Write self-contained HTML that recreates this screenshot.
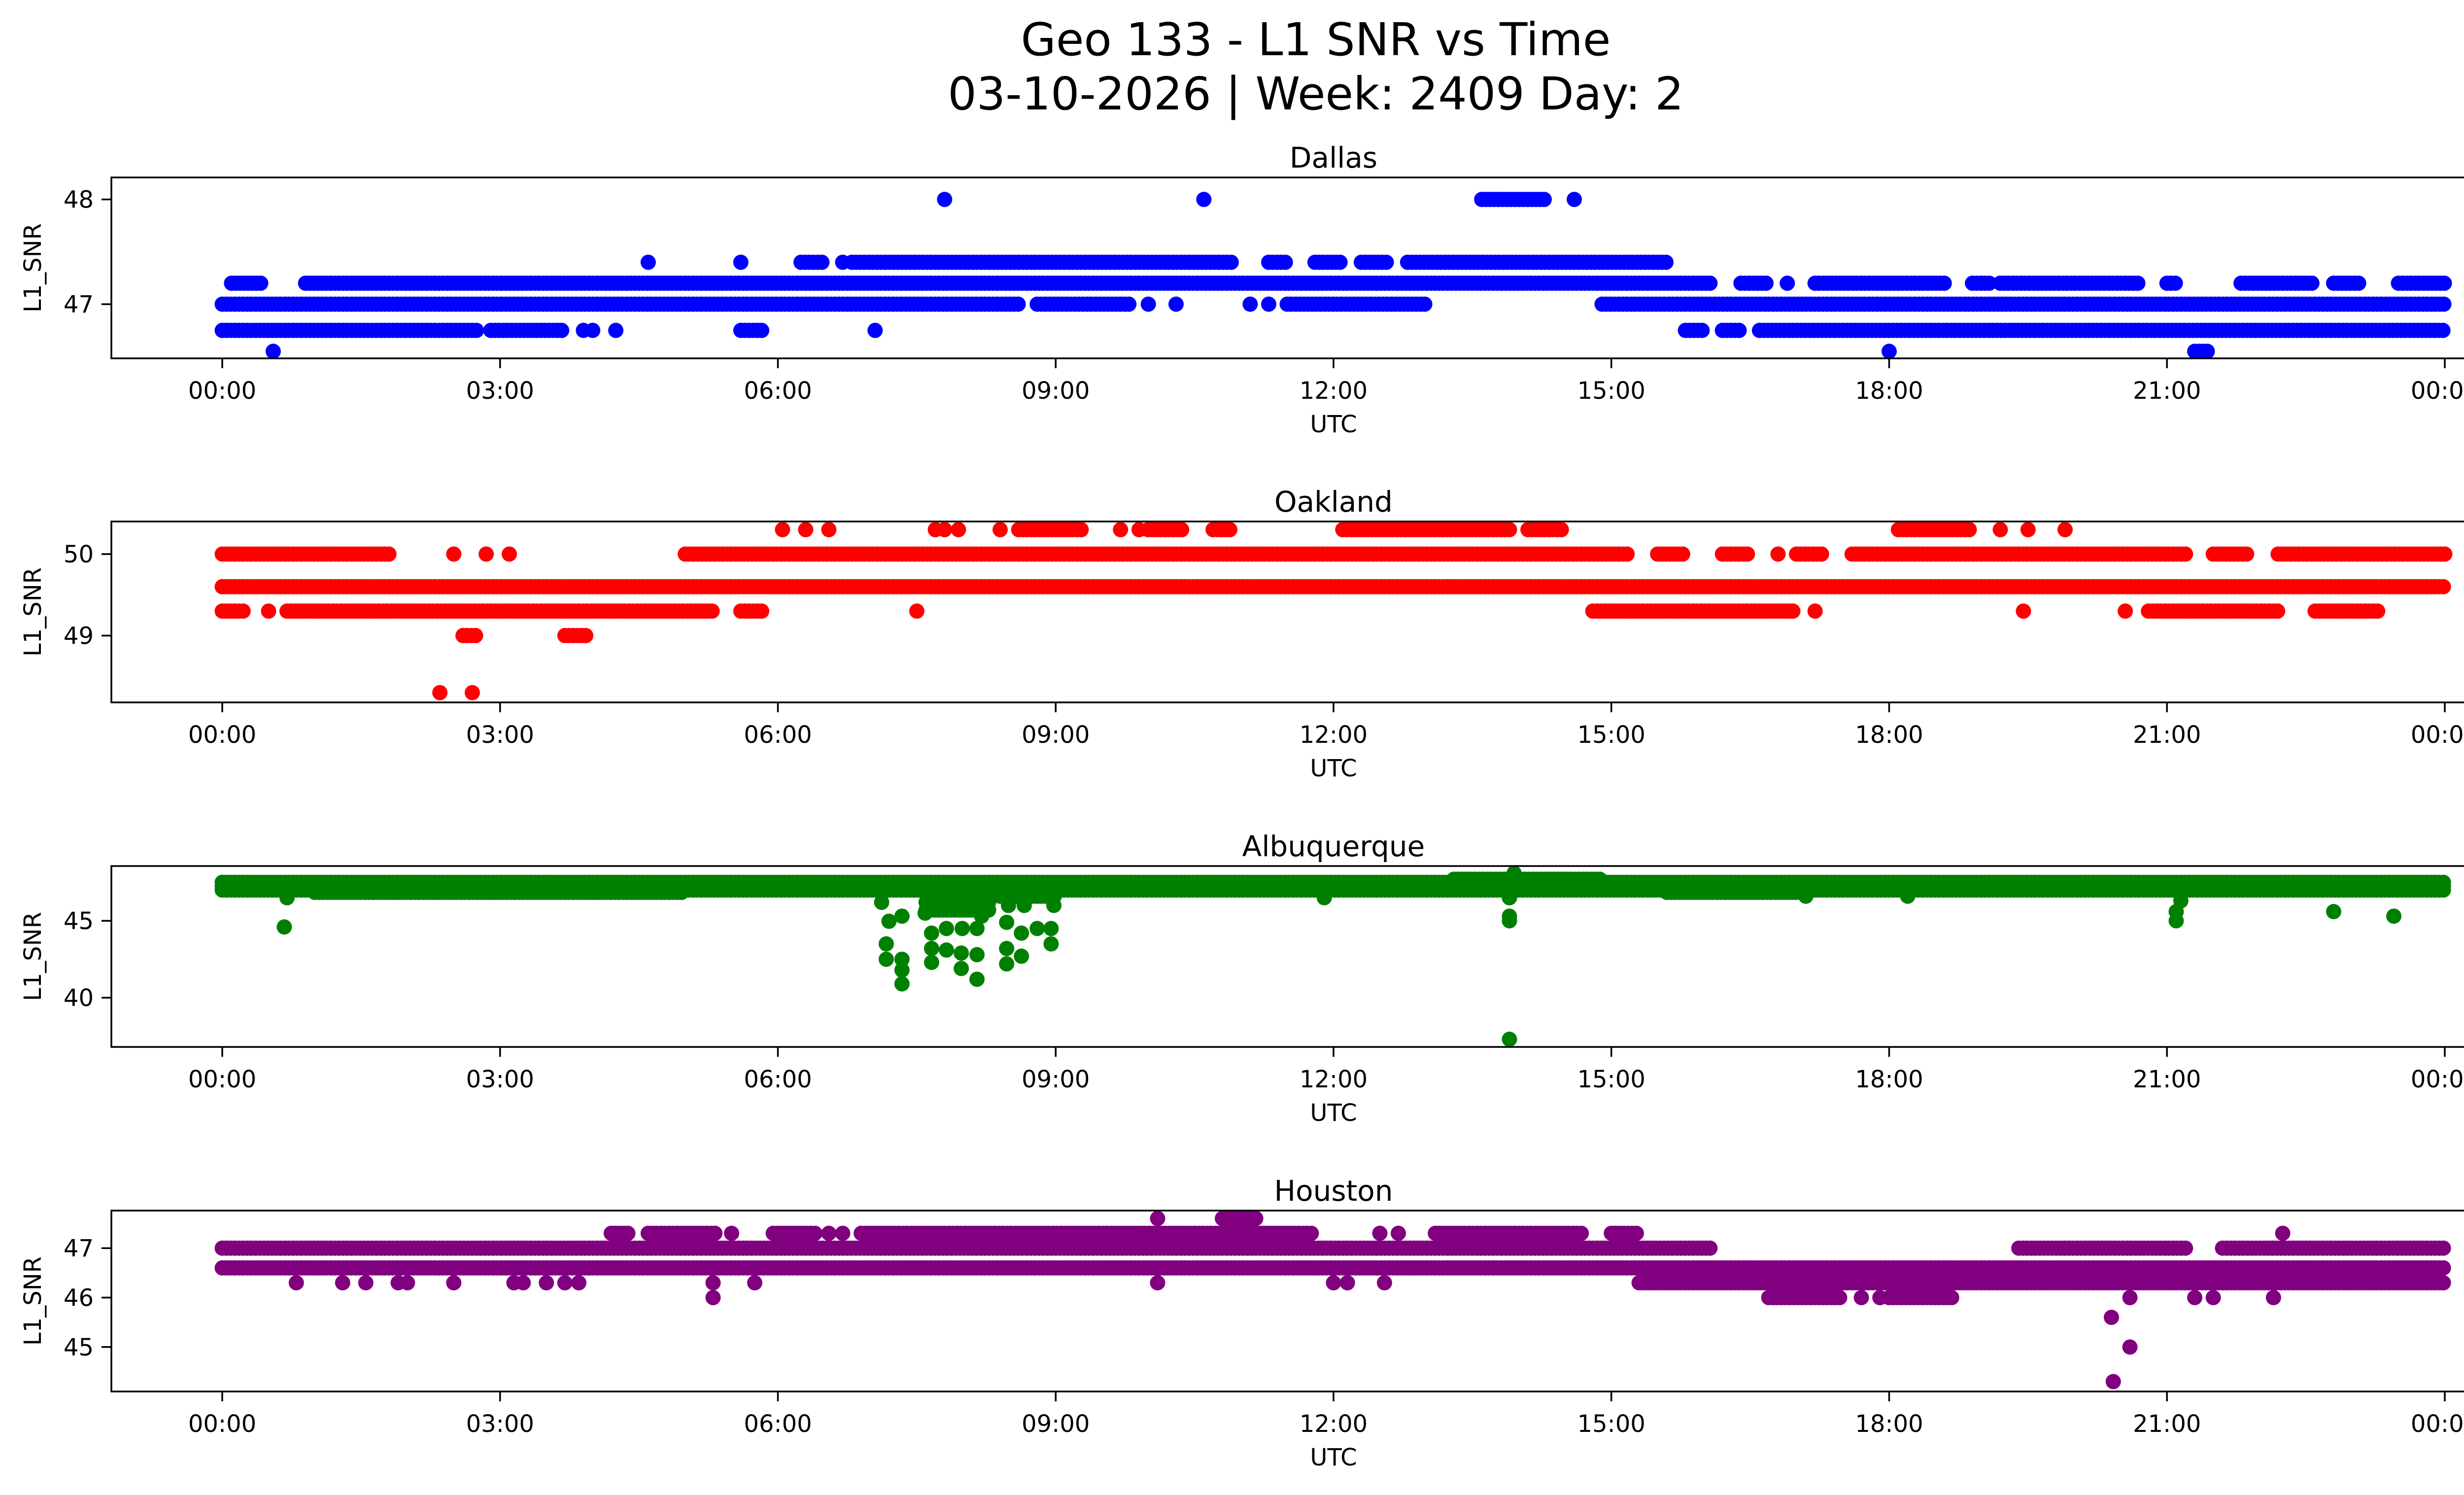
<!DOCTYPE html>
<html><head><meta charset="utf-8"><title>Geo 133 - L1 SNR vs Time</title>
<style>html,body{margin:0;padding:0;background:#fff}svg{display:block}text{font-family:"DejaVu Sans","Liberation Sans",sans-serif;fill:#000}</style>
</head><body>
<svg id="fig" xmlns="http://www.w3.org/2000/svg" width="5225" height="3033" viewBox="0 0 5225 3033">
<rect width="5225" height="3033" fill="#fff"/>
<text x="2670" y="112" font-size="92" text-anchor="middle">Geo 133 - L1 SNR vs Time</text>
<text x="2670" y="222" font-size="92" text-anchor="middle">03-10-2026 | Week: 2409 Day: 2</text>
</svg>
<script>
// ---- data ----
const xTickLabels = ["00:00","03:00","06:00","09:00","12:00","15:00","18:00","21:00","00:00"];
const stationNames = ["Dallas","Oakland","Albuquerque","Houston"];
const stationColors = ["#0000ff","#ff0000","#008000","#800080"];
const dallasYTicks = [47,48];
const oaklandYTicks = [49,50];
const albuquerqueYTicks = [40,45];
const houstonYTicks = [45,46,47];
// runs: [value, startHour, endHour]
const dallasRuns = [[47.0,0,8.6],[47.0,8.8,9.8],[47.0,11.5,13.0],[47.0,14.9,24],
 [47.2,0.1,0.45],[47.2,0.9,16.1],[47.2,16.4,16.7],[47.2,17.2,18.6],[47.2,18.9,19.1],[47.2,19.2,20.7],[47.2,21.0,21.1],[47.2,21.8,22.6],[47.2,22.8,23.1],[47.2,23.5,24],
 [47.4,6.25,6.5],[47.4,6.8,10.9],[47.4,11.3,11.5],[47.4,11.8,12.1],[47.4,12.3,12.6],[47.4,12.8,15.6],
 [48.0,13.6,14.3],
 [46.75,0,2.75],[46.75,2.9,3.7],[46.75,5.6,5.85],[46.75,15.8,16.0],[46.75,16.2,16.4],[46.75,16.6,24],
 [46.55,21.3,21.45]];
const dallasPts = [[10.0,47.0],[10.3,47.0],[11.1,47.0],[11.3,47.0],[4.6,47.4],[5.6,47.4],[6.7,47.4],[7.8,48.0],[10.6,48.0],[14.6,48.0],[16.9,47.2],[3.9,46.75],[4.0,46.75],[4.25,46.75],[7.05,46.75],[0.55,46.55],[18.0,46.55]];
const oaklandRuns = [[50.3,8.6,9.3],[50.3,10.0,10.4],[50.3,10.7,10.9],[50.3,12.1,13.9],[50.3,14.1,14.5],[50.3,18.1,18.9],
 [50.0,0,1.8],[50.0,5.0,15.2],[50.0,15.5,15.8],[50.0,16.2,16.5],[50.0,17.0,17.3],[50.0,17.6,21.2],[50.0,21.5,21.9],[50.0,22.2,24],
 [49.6,0,24],
 [49.3,0,0.25],[49.3,0.7,5.3],[49.3,5.6,5.85],[49.3,14.8,17.0],[49.3,20.8,22.2],[49.3,22.6,23.3],
 [49.0,2.6,2.75],[49.0,3.7,3.95]];
const oaklandPts = [[6.05,50.3],[6.3,50.3],[6.55,50.3],[7.7,50.3],[7.8,50.3],[7.95,50.3],[8.4,50.3],[9.7,50.3],[9.9,50.3],[19.2,50.3],[19.5,50.3],[19.9,50.3],[2.5,50.0],[2.85,50.0],[3.1,50.0],[16.8,50.0],[0.5,49.3],[7.5,49.3],[17.2,49.3],[19.45,49.3],[20.55,49.3],[2.35,48.3],[2.7,48.3]];
const albuquerqueRuns = [[47.5,0,24],[47.25,0,24],[47.0,0,24],[47.7,13.3,14.9],[46.85,1.0,5.0],[46.85,15.6,17.0],[46.2,7.6,8.3],[45.7,7.6,8.3],[46.6,8.4,9.0]];
const albuquerqueGlitches = [[0.67,44.6],[0.7,46.5],[7.2,44.97],[7.34,45.3],[7.17,43.5],[7.17,42.5],[7.34,42.5],[7.34,41.8],[7.34,40.9],[7.12,46.2],[7.66,44.2],[7.66,43.2],[7.66,42.3],[7.82,43.1],[7.82,44.5],[7.99,44.5],[7.98,42.9],[7.98,41.9],[8.15,44.5],[8.15,42.8],[8.15,41.2],[7.59,45.5],[8.2,45.3],[8.47,44.9],[8.47,43.2],[8.47,42.2],[8.63,44.2],[8.63,42.7],[8.8,44.5],[8.95,44.5],[8.95,43.5],[8.49,46.0],[8.66,46.0],[8.98,46.0],[13.9,37.3],[13.9,45.0],[13.9,45.3],[13.9,46.5],[13.95,48.1],[11.9,46.5],[17.1,46.6],[18.2,46.6],[21.1,45.0],[21.1,45.6],[21.15,46.3],[22.8,45.6],[23.45,45.3],[22.9,47.3]];
const houstonRuns = [[47.0,0,16.1],[47.0,19.4,21.2],[47.0,21.6,24],
 [46.6,0,24],
 [46.3,15.3,24],
 [46.0,16.7,17.5],[46.0,18.0,18.7],
 [47.3,4.2,4.4],[47.3,4.6,5.35],[47.3,5.95,6.4],[47.3,6.9,11.8],[47.3,13.1,14.7],[47.3,15.0,15.3],
 [47.6,10.8,11.2]];
const houstonPts = [[0.8,46.3],[1.3,46.3],[1.55,46.3],[1.9,46.3],[2.0,46.3],[2.5,46.3],[3.15,46.3],[3.25,46.3],[3.5,46.3],[3.7,46.3],[3.85,46.3],[5.3,46.3],[5.75,46.3],[10.1,46.3],[12.0,46.3],[12.15,46.3],[12.55,46.3],[5.3,46.0],[17.7,46.0],[17.9,46.0],[21.3,46.0],[21.5,46.0],[22.15,46.0],[20.6,46.0],[10.1,47.6],[5.5,47.3],[6.55,47.3],[6.7,47.3],[12.5,47.3],[12.7,47.3],[22.25,47.3],[20.4,45.6],[20.42,44.3],[20.6,45.0]];
const stationRuns = [dallasRuns,oaklandRuns,albuquerqueRuns,houstonRuns];
const stationPts = [dallasPts,oaklandPts,albuquerqueGlitches,houstonPts];
const stationYTicks = [dallasYTicks,oaklandYTicks,albuquerqueYTicks,houstonYTicks];
const stationYRange = [[46.483,48.21],[48.18,50.4],[36.8,48.56],[44.1,47.76]];

// ---- layout ----
const NS = "http://www.w3.org/2000/svg";
const svg = document.getElementById('fig');
const axL = 226, axR = 5186, x0 = 451, pxPerHour = (4961-451)/24;
const tops = [360,1058,1757,2456], axH = 367;
function xScale(h){ return x0 + h*pxPerHour; }
function mk(tag, attrs, parent){ const e=document.createElementNS(NS,tag); for(const k in attrs) e.setAttribute(k,attrs[k]); (parent||svg).appendChild(e); return e; }

stationNames.forEach((name,i)=>{
  const top=tops[i], bot=top+axH, [ymin,ymax]=stationYRange[i];
  const yScale = v => bot - (v-ymin)/(ymax-ymin)*axH;
  const g = mk('g',{});
  
  
  const clipId='clip'+i;
  const cp=mk('clipPath',{id:clipId},g); mk('rect',{x:axL,y:top,width:axR-axL,height:axH},cp);
  const pts = mk('g',{'clip-path':'url(#'+clipId+')',fill:stationColors[i]},g);
  
  
  const r=15.5;
  stationRuns[i].forEach(run=>{
    const [v,a,b]=run;
    for(let t=a;t<=b+1e-9;t+=0.045){
      const c=mk('circle',{cx:xScale(t).toFixed(1),cy:yScale(v).toFixed(1),r:r},pts);
      
      
    }
  });
  stationPts[i].forEach(p=>{
    const c=mk('circle',{cx:xScale(p[0]).toFixed(1),cy:yScale(p[1]).toFixed(1),r:r},pts);
    
    
  });
  const frame=mk('rect',{x:axL,y:top,width:axR-axL,height:axH,fill:'none',stroke:'#000','stroke-width':3.5},g);
  
  
  xTickLabels.forEach((lab,k)=>{
    const x=xScale(k*3);
    mk('line',{x1:x,x2:x,y1:bot,y2:bot+20,stroke:'#000','stroke-width':3.5},g);
    const t=mk('text',{x:x,y:bot+82,'font-size':48,'text-anchor':'middle'},g);
    t.textContent=lab;
    
    
  });
  stationYTicks[i].forEach(v=>{
    const y=yScale(v);
    mk('line',{x1:axL-20,x2:axL,y1:y,y2:y,stroke:'#000','stroke-width':3.5},g);
    const t=mk('text',{x:axL-36,y:y+17,'font-size':48,'text-anchor':'end'},g);
    t.textContent=String(v);
    
    
  });
  const tt=mk('text',{x:(axL+axR)/2,y:top-20,'font-size':58,'text-anchor':'middle'},g);
  tt.textContent=name;
  
  
  const xl=mk('text',{x:(axL+axR)/2,y:bot+150,'font-size':48,'text-anchor':'middle'},g);
  xl.textContent='UTC';
  
  
  const cy=top+axH/2;
  const yl=mk('text',{x:0,y:0,'font-size':48,'text-anchor':'middle',transform:'translate(83,'+cy+') rotate(-90)'},g);
  yl.textContent='L1_SNR';
  
  
});
</script>
</body></html>
